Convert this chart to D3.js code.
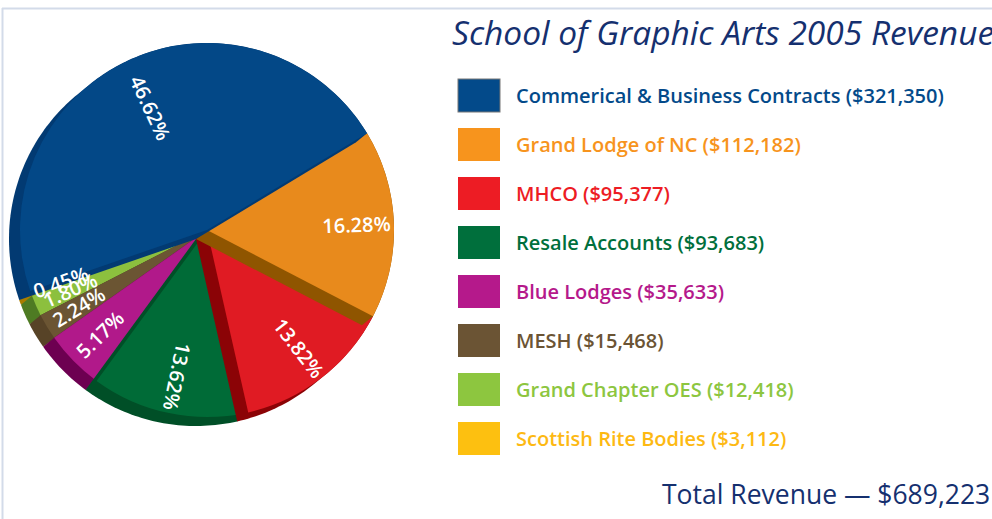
<!DOCTYPE html>
<html>
<head>
<meta charset="utf-8">
<script src="https://cdn.jsdelivr.net/npm/d3@7"></script>
<style>
  body { margin: 0; background: #fff; }
  svg { display: block; }
</style>
</head>
<body>
<div id="chart"></div>
<script>
var categories = ["Commerical & Business Contracts", "Grand Lodge of NC", "MHCO", "Resale Accounts",
                  "Blue Lodges", "MESH", "Grand Chapter OES", "Scottish Rite Bodies"];
var revenue = [321350, 112182, 95377, 93683, 35633, 15468, 12418, 3112];
// percentages as printed on the slices
var pctLabels = ["46.62%", "16.28%", "13.82%", "13.62%", "5.17%", "2.24%", "1.80%", "0.45%"];
var faceColors = ["#034887", "#e88a1c", "#e01b23", "#006b37", "#b1198a", "#6b5533", "#8cc03e", "#f0b81a"];
var sideColors = ["#023a72", "#8f5500", "#8b0306", "#004f27", "#6d0051", "#574327", "#4e7b23", "#a97c00"];
var legendColors = ["#034a8a", "#f7941d", "#ed1c24", "#006f3c", "#b5198b", "#6b5434", "#8dc63f", "#fdc010"];
var textColors = ["#034a8a", "#f7941d", "#ed1c24", "#006f3c", "#b5198b", "#6b5434", "#8dc63f", "#fdb913"];

var width = 992, height = 519;
var cx = 207, cy = 230, radius = 187;
var depth = {x: -11, y: 9};
var navy = "#15306f";

var svg = d3.select("#chart").append("svg")
    .attr("width", width)
    .attr("height", height);

// frame lines top and left
svg.append("line").attr("x1", 2).attr("x2", width).attr("y1", 8.5).attr("y2", 8.5)
    .style("stroke", "#d3dbe9").style("stroke-width", 2);
svg.append("line").attr("x1", 2.5).attr("x2", 2.5).attr("y1", 8).attr("y2", height)
    .style("stroke", "#d3dbe9").style("stroke-width", 2);

var start = -109 * Math.PI / 180;
var pie = d3.pie()
    .sort(null)
    .startAngle(start)
    .endAngle(start + 2 * Math.PI)
    .value(function(d) { return d; });

var arc = d3.arc().innerRadius(0).outerRadius(radius);
var slices = pie(revenue);

// outline points of a wedge, used to build its extruded side
function wedgePoints(d, ox, oy) {
    var pts = [[ox, oy]];
    var n = Math.max(4, Math.ceil((d.endAngle - d.startAngle) / 0.02));
    for (var i = 0; i <= n; i++) {
        var a = d.startAngle + (d.endAngle - d.startAngle) * i / n;
        pts.push([ox + radius * Math.sin(a), oy - radius * Math.cos(a)]);
    }
    return pts;
}

var pieG = svg.append("g").attr("class", "pie");

// draw from the last slice back to the first so each side shows over its neighbour
slices.slice().reverse().forEach(function(d) {
    var pts = wedgePoints(d, 0, 0).concat(wedgePoints(d, depth.x, depth.y));
    var hull = d3.polygonHull(pts);
    pieG.append("path")
        .attr("class", "side")
        .attr("transform", "translate(" + cx + "," + cy + ")")
        .attr("d", "M" + hull.join("L") + "Z")
        .style("fill", sideColors[d.index]);
    pieG.append("path")
        .attr("class", "face")
        .attr("transform", "translate(" + cx + "," + cy + ")")
        .attr("d", arc(d))
        .style("fill", faceColors[d.index]);
});

// percentage labels, rotated along the radius
// big slices keep their label a little nearer the centre
function labelRadius(d) {
    var share = (d.endAngle - d.startAngle) / (2 * Math.PI);
    if (share > 0.3) return radius * 0.72;
    if (share < 0.01) return radius * 0.83;
    return radius * 0.8;
}
pieG.selectAll(".pct")
    .data(slices)
    .enter().append("text")
    .attr("class", "pct")
    .attr("transform", function(d) {
        var a = (d.startAngle + d.endAngle) / 2;
        var deg = a * 180 / Math.PI;
        if (deg < 0) deg += 360;
        var lr = labelRadius(d);
        var x = cx + lr * Math.sin(a), y = cy - lr * Math.cos(a);
        var rot = deg <= 200 ? deg - 90 : deg + 90;
        return "translate(" + x + "," + y + ") rotate(" + rot + ")";
    })
    .attr("text-anchor", "middle")
    .attr("dy", "0.35em")
    .style("font-family", "'Open Sans', sans-serif")
    .style("font-weight", 600)
    .style("font-size", "20px")
    .style("fill", "#fff")
    .text(function(d, i) { return pctLabels[i]; });

// title (runs past the right edge, as in the original)
svg.append("text")
    .attr("x", 452)
    .attr("y", 45)
    .style("font-family", "'Open Sans', sans-serif")
    .style("font-style", "italic")
    .style("font-size", "33.5px")
    .style("fill", navy)
    .text("School of Graphic Arts 2005 Revenue");

// legend
var money = d3.format("$,");
var legend = svg.selectAll(".legend")
    .data(categories)
    .enter().append("g")
    .attr("class", "legend")
    .attr("transform", function(d, i) { return "translate(458," + (79 + i * 49) + ")"; });

legend.append("rect")
    .attr("width", 42)
    .attr("height", 33)
    .style("fill", function(d, i) { return legendColors[i]; })
    .style("stroke", function(d, i) { return i == 0 ? "#777" : "none"; })
    .style("stroke-width", 1);

legend.append("text")
    .attr("x", 58)
    .attr("y", 17)
    .attr("dy", "0.35em")
    .style("font-family", "'Open Sans', sans-serif")
    .style("font-weight", 600)
    .style("font-size", "20px")
    .style("fill", function(d, i) { return textColors[i]; })
    .text(function(d, i) { return d + " (" + money(revenue[i]) + ")"; });

// total
svg.append("text")
    .attr("x", 662)
    .attr("y", 504)
    .style("font-family", "'Open Sans', sans-serif")
    .style("font-size", "26.5px")
    .style("fill", navy)
    .text("Total Revenue \u2014 " + money(d3.sum(revenue)));
</script>
</body>
</html>
